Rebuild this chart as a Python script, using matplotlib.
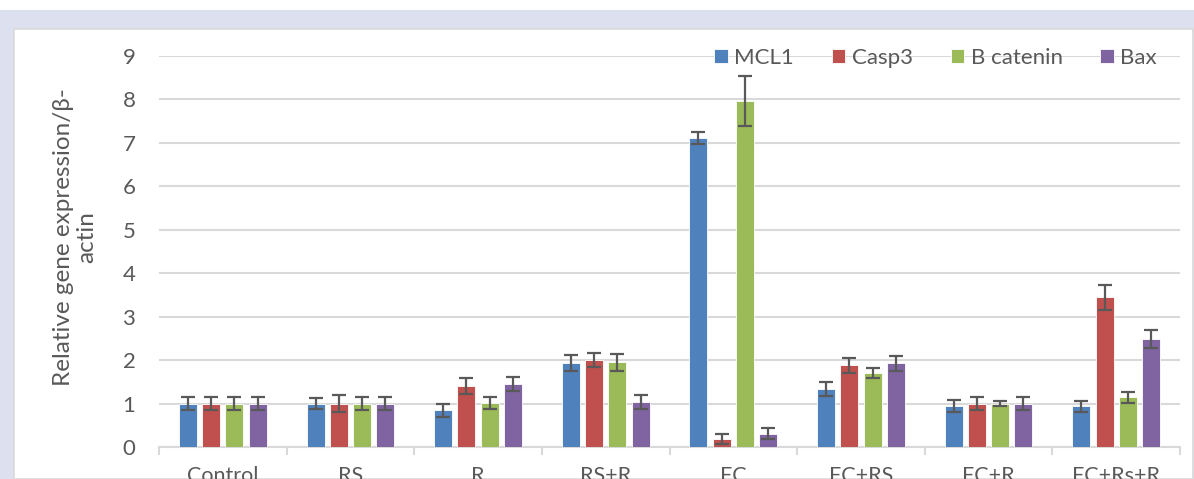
import matplotlib
matplotlib.use("Agg")
import matplotlib.pyplot as plt
from matplotlib.patches import Rectangle
import numpy as np

categories = ["Control", "RS", "R", "RS+R", "FC", "FC+RS", "FC+R", "FC+Rs+R"]
series_names = ["MCL1", "Casp3", "B catenin", "Bax"]
mcl1 = [1.00, 1.00, 0.85, 1.94, 7.11, 1.33, 0.94, 0.94]
casp3 = [1.00, 1.00, 1.40, 2.00, 0.19, 1.88, 1.00, 3.45]
bcat = [1.00, 1.00, 1.02, 1.95, 7.97, 1.70, 1.00, 1.14]
bax = [1.00, 1.00, 1.45, 1.04, 0.31, 1.93, 1.00, 2.49]
mcl1_err = [0.15, 0.12, 0.15, 0.18, 0.14, 0.16, 0.14, 0.13]
casp3_err = [0.15, 0.19, 0.19, 0.17, 0.12, 0.17, 0.15, 0.29]
bcat_err = [0.15, 0.14, 0.14, 0.19, 0.58, 0.12, 0.06, 0.13]
bax_err = [0.15, 0.14, 0.17, 0.16, 0.12, 0.17, 0.15, 0.20]
colors = ["#4f81bd", "#c0504d", "#9bbb59", "#8064a2"]

FONT = ["Lato", "DejaVu Sans"]
plt.rcParams["font.family"] = FONT
TXT = "#595959"
GRID = "#d9d9d9"

W, H = 1194, 479
fig = plt.figure(figsize=(W / 100, H / 100), dpi=100)
fig.patch.set_facecolor("white")
# background panels
fig.patches.append(Rectangle((0, 0), 1, 1 - 10 / H, transform=fig.transFigure,
                             facecolor="#dde1ef", edgecolor="none", zorder=-10))
fig.patches.append(Rectangle((14 / W, 0), 1 - 15 / W, 1 - 29 / H, transform=fig.transFigure,
                             facecolor="white", edgecolor=GRID, linewidth=1.2, zorder=-9))

ax = fig.add_axes([159 / W, 1 - 447 / H, (1180 - 159) / W, (447 - 56) / H])
ax.set_facecolor("none")

x = np.arange(len(categories))
bw = 0.141
step = 0.182
vals = [mcl1, casp3, bcat, bax]
errs = [mcl1_err, casp3_err, bcat_err, bax_err]
for i, (v, e, c, n) in enumerate(zip(vals, errs, colors, series_names)):
    ax.bar(x + (i - 1.5) * step, v, width=bw, color=c, edgecolor="white", linewidth=0.6,
           label=n, zorder=3,
           yerr=e, error_kw=dict(ecolor="#595959", elinewidth=1.6, capsize=4.8, capthick=1.6, zorder=4))

ax.set_xlim(-0.5, len(categories) - 0.5)
ax.set_ylim(0, 9)
ax.set_yticks(range(0, 10))
ax.yaxis.grid(True, color=GRID, linewidth=1.5, zorder=0)
ax.set_axisbelow(True)
for s in ["top", "right", "left"]:
    ax.spines[s].set_visible(False)
ax.spines["bottom"].set_color(GRID)
ax.spines["bottom"].set_linewidth(1.5)
ax.spines["bottom"].set_zorder(2)

ax.set_xticks(x)
ax.set_xticklabels(categories)
ax.set_xticks(np.arange(-0.5, len(categories)), minor=True)
ax.tick_params(axis="x", which="major", length=0, pad=14, labelsize=15.5, labelcolor=TXT)
ax.tick_params(axis="x", which="minor", length=6, width=1.5, color=GRID, direction="out")
ax.tick_params(axis="y", length=0, pad=17, labelsize=16, labelcolor=TXT)

fig.text(75 / W, 1 - 237 / H, "Relative gene expression/β-\nactin", rotation=90,
         ha="center", va="center", fontsize=17.5, color=TXT, linespacing=1.15,
         multialignment="center")

leg = ax.legend(loc="center right", bbox_to_anchor=(1157 / W, 1 - 58 / H),
                bbox_transform=fig.transFigure, ncol=4, frameon=False,
                handlelength=0.6, handleheight=0.6, handletextpad=0.3,
                columnspacing=1.7, fontsize=16, borderpad=0, borderaxespad=0)
for t in leg.get_texts():
    t.set_color(TXT)

fig.savefig("out.png", dpi=100, facecolor=fig.get_facecolor())
